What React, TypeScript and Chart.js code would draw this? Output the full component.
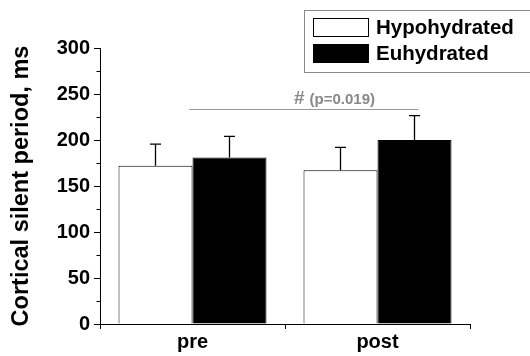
import React, { useEffect, useRef } from "react";
import { Chart, registerables } from "chart.js";

Chart.register(...registerables);

const categories = ["pre", "post"];
const seriesNames = ["Hypohydrated", "Euhydrated"];
const hypoValues = [172, 167];
const hypoErrors = [23.5, 25];
const euValues = [181, 200];
const euErrors = [23, 26.5];
const yTicks = [0, 50, 100, 150, 200, 250, 300];
const minorTicks = [25, 75, 125, 175, 225, 275];
const sigLevel = 234;
const sigText = ["#", "(p=0.019)"];

const FONT = "'Liberation Sans', Arial, sans-serif";

const overlayPlugin = {
  id: "overlay",
  afterDatasetsDraw(chart: any) {
    const ctx = chart.ctx;
    const x = chart.scales.x;
    const y = chart.scales.y;
    const errs = [hypoErrors, euErrors];
    const vals = [hypoValues, euValues];
    ctx.save();
    // error bars
    ctx.strokeStyle = "#000";
    ctx.lineWidth = 1.3;
    for (let d = 0; d < 2; d++) {
      const meta = chart.getDatasetMeta(d);
      meta.data.forEach((bar: any, i: number) => {
        const top = y.getPixelForValue(vals[d][i]);
        const eTop = y.getPixelForValue(vals[d][i] + errs[d][i]);
        ctx.beginPath();
        ctx.moveTo(bar.x, top);
        ctx.lineTo(bar.x, eTop);
        ctx.moveTo(bar.x - 5.5, eTop);
        ctx.lineTo(bar.x + 5.5, eTop);
        ctx.stroke();
      });
    }
    // minor ticks
    ctx.lineWidth = 1;
    ctx.strokeStyle = "#000";
    minorTicks.forEach((v) => {
      const py = Math.round(y.getPixelForValue(v)) + 0.5;
      ctx.beginPath();
      ctx.moveTo(x.left - 3.5, py);
      ctx.lineTo(x.left, py);
      ctx.stroke();
    });
    // significance
    const euMeta = chart.getDatasetMeta(1);
    const sy = Math.round(y.getPixelForValue(sigLevel)) + 0.5;
    const x0 = x.getPixelForValue(0) - 3.5;
    const x1 = euMeta.data[1].x + 4;
    ctx.strokeStyle = "#999";
    ctx.lineWidth = 1.2;
    ctx.beginPath();
    ctx.moveTo(x0, sy);
    ctx.lineTo(x1, sy);
    ctx.stroke();
    ctx.fillStyle = "#888";
    ctx.textBaseline = "alphabetic";
    ctx.textAlign = "left";
    ctx.font = `bold 19px ${FONT}`;
    const tx = 294;
    ctx.fillText(sigText[0], tx, sy - 6);
    const w0 = ctx.measureText(sigText[0]).width;
    ctx.font = `bold 15px ${FONT}`;
    ctx.fillText(sigText[1], tx + w0 + 5, sy - 6);
    // legend
    ctx.strokeStyle = "#888";
    ctx.lineWidth = 1;
    ctx.strokeRect(304.5, 10.5, 226, 62);
    ctx.fillStyle = "#fff";
    ctx.fillRect(313.5, 18.5, 55, 18);
    ctx.strokeStyle = "#000";
    ctx.strokeRect(313.5, 18.5, 55, 18);
    ctx.fillStyle = "#000";
    ctx.fillRect(313, 44, 56, 19);
    ctx.font = `bold 20.5px ${FONT}`;
    ctx.textBaseline = "middle";
    ctx.fillText(seriesNames[0], 376, 28);
    ctx.fillText(seriesNames[1], 376, 54);
    ctx.restore();
  },
};

export default function App() {
  const ref = useRef<HTMLCanvasElement>(null);
  useEffect(() => {
    document.body.style.margin = "0";
    const chart = new Chart(ref.current!, {
      type: "bar",
      data: {
        labels: categories,
        datasets: [
          {
            label: seriesNames[0],
            data: hypoValues,
            backgroundColor: "#fff",
            borderColor: "#000",
            borderWidth: 1,
          },
          {
            label: seriesNames[1],
            data: euValues,
            backgroundColor: "#000",
            borderColor: "#000",
            borderWidth: 1,
          },
        ],
      },
      plugins: [overlayPlugin],
      options: {
        animation: false,
        responsive: false,
        devicePixelRatio: 1,
        layout: { padding: { left: 0, top: 48, right: 60, bottom: 0 } },
        datasets: { bar: { barPercentage: 1, categoryPercentage: 0.8 } },
        plugins: { legend: { display: false }, tooltip: { enabled: false } },
        scales: {
          x: {
            afterFit: (s: any) => {
              s.height = 32;
            },
            grid: { drawOnChartArea: false, tickLength: 5, color: "#000" },
            border: { color: "#000", width: 1 },
            ticks: {
              color: "#000",
              padding: 1,
              font: { family: FONT, size: 20, weight: "bold" },
            },
          },
          y: {
            min: 0,
            max: 300,
            afterFit: (s: any) => {
              s.width = 100;
            },
            afterBuildTicks: (s: any) => {
              s.ticks = yTicks.map((v) => ({ value: v }));
            },
            grid: { drawOnChartArea: false, tickLength: 6, color: "#000" },
            border: { color: "#000", width: 1 },
            ticks: {
              color: "#000",
              padding: 4,
              font: { family: FONT, size: 20, weight: "bold" },
            },
            title: {
              display: true,
              text: "Cortical silent period, ms",
              color: "#000",
              padding: { top: 7, bottom: 0 },
              font: { family: FONT, size: 23.5, weight: "bold" },
            },
          },
        },
      },
    } as any);
    return () => chart.destroy();
  }, []);
  return <canvas ref={ref} width={530} height={356} style={{ display: "block" }} />;
}
